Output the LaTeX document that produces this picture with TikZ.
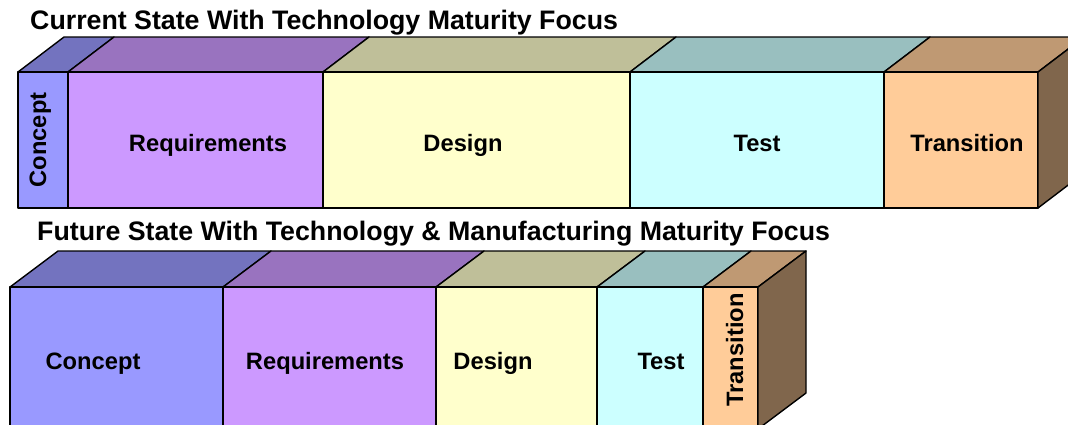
\documentclass[tikz,border=0pt]{standalone}
\usepackage{fontspec}
\setmainfont{Liberation Sans}
\definecolor{Cpt}{HTML}{9999FF}
\definecolor{Req}{HTML}{CC99FF}
\definecolor{Dsg}{HTML}{FFFFCC}
\definecolor{Tst}{HTML}{CCFFFF}
\definecolor{Trn}{HTML}{FFCC99}
\begin{document}
\begin{tikzpicture}[x=1pt,y=-1pt,
  face/.style={draw=black,line width=1.4pt,line join=round},
  title/.style={font=\fontsize{26.75}{30}\selectfont\bfseries,anchor=base west,inner sep=0pt},
  phase/.style={font=\fontsize{23.7}{28}\selectfont\bfseries,anchor=base,inner sep=0pt},
  vphase/.style={phase,rotate=90}
]
\useasboundingbox (0,0) rectangle (1068,424);
\clip (0,0) rectangle (1068,424);
% current state bar
\foreach \a/\b/\col in {18/68/Cpt,68/323/Req,323/630/Dsg,630/884/Tst,884/1038/Trn}{
  \filldraw[face,fill=\col!75!black] (\a,72) -- (\a+46,37) -- (\b+46,37) -- (\b,72) -- cycle;
  \filldraw[face,fill=\col] (\a,72) rectangle (\b,208);
}
\filldraw[face,fill=Trn!50!black] (1038,72) -- (1084,37) -- (1084,173) -- (1038,208) -- cycle;
\node[title] (cur) at (30,29) {Current State With Technology Maturity Focus};
\node[vphase] (cur-cpt) at (46,140) {Concept};
\node[phase] (cur-req) at (208,151) {Requirements};
\node[phase] (cur-dsg) at (463,151) {Design};
\node[phase] (cur-tst) at (757,151) {Test};
\node[phase] (cur-trn) at (967,151) {Transition};
% future state bar
\foreach \a/\b/\col in {10/223/Cpt,223/436/Req,436/597/Dsg,597/703/Tst,703/758/Trn}{
  \filldraw[face,fill=\col!75!black] (\a,287) -- (\a+48,251) -- (\b+48,251) -- (\b,287) -- cycle;
  \filldraw[face,fill=\col] (\a,287) rectangle (\b,430);
}
\filldraw[face,fill=Trn!50!black] (758,287) -- (806,251) -- (806,393) -- (758,429) -- cycle;
\node[title] (fut) at (37,240) {Future State With Technology \& Manufacturing Maturity Focus};
\node[phase] (fut-cpt) at (93,369) {Concept};
\node[phase] (fut-req) at (325,369) {Requirements};
\node[phase] (fut-dsg) at (493,369) {Design};
\node[phase] (fut-tst) at (661,369) {Test};
\node[vphase] (fut-trn) at (743,350) {Transition};
\end{tikzpicture}
\end{document}
